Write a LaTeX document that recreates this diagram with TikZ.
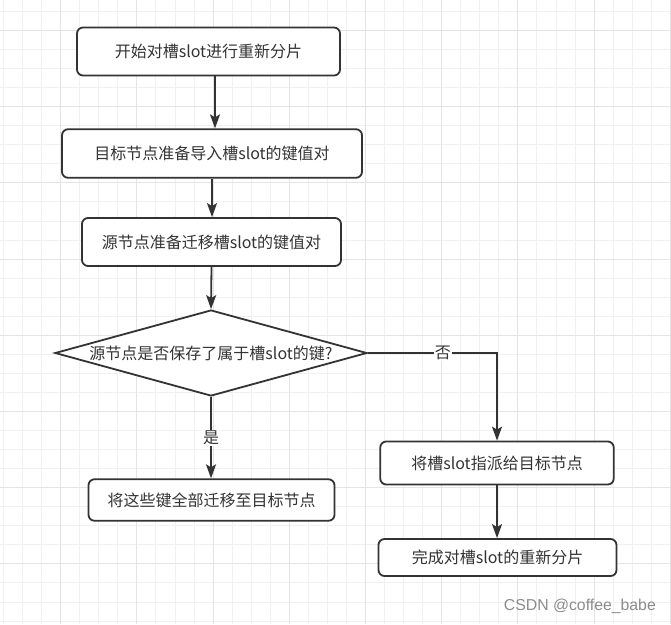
\documentclass[tikz,border=0pt]{standalone}
\usepackage{fontspec}
\setmainfont{Noto Sans CJK SC}
\newfontfamily\wmfont{Liberation Sans}
\usetikzlibrary{shapes.geometric, arrows.meta}
\definecolor{linegray}{RGB}{51,51,51}
\definecolor{textgray}{RGB}{51,51,51}
\definecolor{gridminor}{RGB}{240,240,240}
\definecolor{gridmajor}{RGB}{228,228,228}
\definecolor{markgray}{RGB}{140,140,140}

\begin{document}
\begin{tikzpicture}[x=1pt, y=-1pt, >={Stealth[length=14pt, width=10pt, inset=3pt]},
  box/.style={draw=linegray, line width=1.8pt, rounded corners=6pt, fill=white,
    inner sep=0pt, text=textgray, font=\fontsize{16}{19}\selectfont},
  decision/.style={diamond, draw=linegray, line width=1.8pt, fill=white, aspect=3.63,
    inner sep=0pt, text=textgray, font=\fontsize{16}{19}\selectfont},
  link/.style={->, draw=linegray, line width=1.8pt},
  tag/.style={fill=white, inner sep=1pt, text=textgray, font=\fontsize{16}{19}\selectfont}]
\useasboundingbox (0,0) rectangle (671,624);
\fill[white] (0,0) rectangle (671,624);
\foreach \i in {0,...,35} \draw[gridminor, line width=1pt] ({3.55+19.05*\i},0) -- ++(0,624);
\foreach \j in {0,...,32} \draw[gridminor, line width=1pt] (0,{11.45+19.05*\j}) -- ++(671,0);
\foreach \i in {0,...,8} \draw[gridmajor, line width=1pt] ({60.7+76.2*\i},0) -- ++(0,624);
\foreach \j in {0,...,7} \draw[gridmajor, line width=1pt] (0,{30.5+76.2*\j}) -- ++(671,0);

\node[box, minimum width=263pt, minimum height=48pt] (b1) at (208.5,51.5) {开始对槽slot进行重新分片};
\node[box, minimum width=300pt, minimum height=48.5pt] (b2) at (212,153.5) {目标节点准备导入槽slot的键值对};
\node[box, minimum width=259pt, minimum height=48pt] (b3) at (211.5,242) {源节点准备迁移槽slot的键值对};
\node[decision, minimum width=312pt, minimum height=86pt] (q) at (211,353) {源节点是否保存了属于槽slot的键?};
\node[box, minimum width=246pt, minimum height=41.5pt] (b4) at (211.5,500) {将这些键全部迁移至目标节点};
\node[box, minimum width=233.5pt, minimum height=43pt] (b5) at (497,463) {将槽slot指派给目标节点};
\node[box, minimum width=238pt, minimum height=37pt] (b6) at (497.5,557.5) {完成对槽slot的重新分片};

\draw[link] ([xshift=6.5pt]b1.south) -- ([xshift=3pt]b2.north);
\draw[link] (b2.south) -- (b2.south |- b3.north);
\draw[link] (b3.south) -- (q.north);
\draw[link] (q.south) -- node[tag]{是} (q.south |- b4.north);
\draw[link] (q.east) -| node[tag, pos=0.29]{否} (b5.north);
\draw[link] (b5.south) -- (b5.south |- b6.north);

\node[anchor=east, inner sep=0pt, text=markgray, font=\wmfont\fontsize{15.8}{18}\selectfont] (wm) at (656,606) {CSDN @coffee\_babe};
\end{tikzpicture}
\end{document}
